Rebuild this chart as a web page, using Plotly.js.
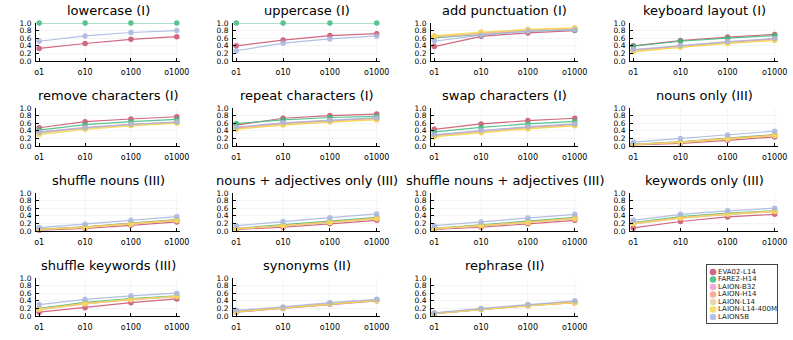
<!DOCTYPE html>
<html>
<head>
<meta charset="utf-8">
<script src="https://cdn.plot.ly/plotly-3.0.1.min.js"></script>
<style>
  body { margin: 0; background: #fff; }
  #plot { width: 793px; height: 340px; }
</style>
</head>
<body>
<div id="plot"></div>
<script>
// subplot titles and x tick labels
var panels = ["lowercase (I)", "uppercase (I)", "add punctuation (I)", "keyboard layout (I)",
  "remove characters (I)", "repeat characters (I)", "swap characters (I)", "nouns only (III)",
  "shuffle nouns (III)", "nouns + adjectives only (III)", "shuffle nouns + adjectives (III)", "keywords only (III)",
  "shuffle keywords (III)", "synonyms (II)", "rephrase (II)"];
var xLabels = ["o1", "o10", "o100", "o1000"];
var yTicks = [0, 0.2, 0.4, 0.6, 0.8, 1.0];

var models = ["EVA02-L14", "FARE2-H14", "LAION-B32", "LAION-H14", "LAION-L14", "LAION-L14-400M", "LAION5B"];
var colors = ["#c94f6a", "#3dba7c", "#ef9bd0", "#f5a07c", "#e9cfa3", "#f6d84a", "#a7b6df"];

// one row per panel, values at o1, o10, o100, o1000
var eva02 = [
  [0.33, 0.46, 0.57, 0.64], [0.40, 0.55, 0.67, 0.72], [0.38, 0.65, 0.74, 0.80], [0.40, 0.54, 0.63, 0.70],
  [0.48, 0.64, 0.71, 0.77], [0.55, 0.73, 0.80, 0.84], [0.44, 0.58, 0.67, 0.73], [0.03, 0.07, 0.15, 0.24],
  [0.02, 0.07, 0.15, 0.24], [0.04, 0.10, 0.19, 0.28], [0.04, 0.10, 0.19, 0.28], [0.08, 0.25, 0.37, 0.44],
  [0.10, 0.22, 0.35, 0.45], [0.10, 0.20, 0.31, 0.40], [0.06, 0.17, 0.27, 0.35]];
var fare2 = [
  [1.00, 1.00, 1.00, 1.00], [1.00, 1.00, 1.00, 1.00], [0.61, 0.70, 0.79, 0.82], [0.39, 0.52, 0.60, 0.67],
  [0.42, 0.56, 0.64, 0.70], [0.59, 0.69, 0.75, 0.78], [0.37, 0.49, 0.58, 0.65], [0.05, 0.11, 0.21, 0.30],
  [0.05, 0.11, 0.21, 0.30], [0.07, 0.16, 0.26, 0.36], [0.07, 0.16, 0.26, 0.36], [0.22, 0.38, 0.47, 0.53],
  [0.20, 0.36, 0.46, 0.53], [0.12, 0.22, 0.33, 0.42], [0.07, 0.18, 0.28, 0.37]];
var laionB32 = [
  null, null, [0.63, 0.72, 0.80, 0.85], [0.29, 0.40, 0.50, 0.58],
  [0.37, 0.49, 0.57, 0.63], [0.48, 0.60, 0.67, 0.73], [0.28, 0.40, 0.49, 0.57], [0.04, 0.10, 0.19, 0.28],
  [0.04, 0.10, 0.19, 0.28], [0.06, 0.13, 0.23, 0.33], [0.06, 0.13, 0.23, 0.33], [0.20, 0.35, 0.45, 0.52],
  [0.18, 0.33, 0.44, 0.52], [0.12, 0.22, 0.33, 0.42], [0.07, 0.18, 0.28, 0.37]];
var laionH14 = [
  null, null, [0.65, 0.74, 0.82, 0.86], [0.28, 0.39, 0.49, 0.57],
  [0.35, 0.47, 0.56, 0.62], [0.47, 0.58, 0.66, 0.72], [0.27, 0.38, 0.48, 0.56], [0.04, 0.10, 0.20, 0.29],
  [0.04, 0.10, 0.20, 0.29], [0.06, 0.14, 0.24, 0.34], [0.06, 0.14, 0.24, 0.34], [0.19, 0.34, 0.44, 0.51],
  [0.17, 0.32, 0.43, 0.51], [0.12, 0.22, 0.33, 0.42], [0.07, 0.18, 0.28, 0.36]];
var laionL14 = [
  null, null, [0.64, 0.73, 0.81, 0.85], [0.26, 0.37, 0.47, 0.55],
  [0.33, 0.46, 0.55, 0.61], [0.45, 0.56, 0.64, 0.70], [0.25, 0.37, 0.46, 0.54], [0.04, 0.09, 0.18, 0.27],
  [0.04, 0.09, 0.18, 0.27], [0.06, 0.13, 0.22, 0.32], [0.06, 0.13, 0.22, 0.32], [0.19, 0.34, 0.44, 0.51],
  [0.17, 0.32, 0.43, 0.51], [0.11, 0.21, 0.32, 0.41], [0.07, 0.17, 0.27, 0.36]];
var laion400m = [
  null, null, [0.66, 0.76, 0.83, 0.87], [0.24, 0.36, 0.46, 0.54],
  [0.30, 0.44, 0.53, 0.60], [0.44, 0.55, 0.63, 0.69], [0.24, 0.35, 0.45, 0.53], [0.04, 0.10, 0.19, 0.28],
  [0.04, 0.10, 0.19, 0.28], [0.06, 0.14, 0.23, 0.33], [0.06, 0.14, 0.23, 0.33], [0.20, 0.35, 0.45, 0.52],
  [0.18, 0.33, 0.44, 0.52], [0.11, 0.21, 0.32, 0.41], [0.07, 0.17, 0.27, 0.35]];
var laion5b = [
  [0.52, 0.66, 0.75, 0.80], [0.27, 0.47, 0.58, 0.66], [0.52, 0.68, 0.78, 0.82], [0.30, 0.41, 0.51, 0.59],
  [0.36, 0.48, 0.57, 0.63], [0.50, 0.61, 0.68, 0.74], [0.30, 0.41, 0.51, 0.58], [0.10, 0.20, 0.29, 0.39],
  [0.09, 0.18, 0.28, 0.38], [0.14, 0.25, 0.35, 0.45], [0.14, 0.24, 0.34, 0.44], [0.28, 0.44, 0.53, 0.60],
  [0.30, 0.44, 0.53, 0.60], [0.15, 0.24, 0.35, 0.44], [0.08, 0.20, 0.30, 0.40]];

var series = [eva02, fare2, laionB32, laionH14, laionL14, laion400m, laion5b];

var W = 793, H = 340;
var colPx = [[36, 180], [233, 380], [431, 578], [630, 778]];
var rowPx = [[23, 61], [108, 146], [193, 231], [278, 316]];

var font = "DejaVu Sans, Liberation Sans, sans-serif";
var data = [];
var layout = {
  width: W, height: H,
  margin: {l: 0, r: 0, t: 0, b: 0},
  paper_bgcolor: "#fff", plot_bgcolor: "#fff",
  showlegend: false,
  font: {family: font, color: "#000"},
  annotations: []
};

panels.forEach(function (title, p) {
  var c = p % 4, r = Math.floor(p / 4);
  var n = p === 0 ? "" : String(p + 1);
  var xd = [colPx[c][0] / W, colPx[c][1] / W];
  var yd = [1 - rowPx[r][1] / H, 1 - rowPx[r][0] / H];

  series.forEach(function (s, k) {
    if (!s[p]) return;
    data.push({
      x: xLabels, y: s[p],
      xaxis: "x" + n, yaxis: "y" + n,
      type: "scatter", mode: "lines+markers",
      name: models[k],
      line: {color: colors[k], width: 1.2},
      marker: {color: colors[k], size: 5.5},
      opacity: 0.85,
      cliponaxis: false
    });
  });

  layout["xaxis" + n] = {
    domain: xd, anchor: "y" + n,
    type: "category", range: [-0.07, 3.07],
    showline: true, linecolor: "#000", linewidth: 1,
    ticks: "inside", ticklen: 3, tickcolor: "#000",
    showgrid: true, gridcolor: "#ececec", gridwidth: 0.6,
    zeroline: false,
    tickfont: {size: 8, family: font},
    ticklabelstandoff: 3
  };
  layout["yaxis" + n] = {
    domain: yd, anchor: "x" + n,
    range: [0, 1],
    tickvals: yTicks, ticktext: yTicks.map(function (v) { return v.toFixed(1); }),
    showline: true, linecolor: "#000", linewidth: 1,
    ticks: "inside", ticklen: 3, tickcolor: "#000",
    showgrid: true, gridcolor: "#ececec", gridwidth: 0.6,
    zeroline: false,
    tickfont: {size: 7.5, family: font},
    ticklabelstandoff: 2
  };
  layout.annotations.push({
    text: title, xref: "paper", yref: "paper",
    x: (xd[0] + xd[1]) / 2, y: yd[1],
    xanchor: "center", yanchor: "bottom", yshift: 3,
    showarrow: false,
    font: {size: 13, family: font, color: "#000"}
  });
});

// legend box in the empty 16th cell
var legX = [707, 777], legY = [265, 323];
data.push({
  x: models.map(function () { return 0; }),
  y: models.map(function (m, i) { return i; }),
  text: models,
  xaxis: "x16", yaxis: "y16",
  type: "scatter", mode: "markers+text",
  textposition: "middle right",
  textfont: {size: 7, family: font, color: "#222"},
  marker: {color: colors, size: 6.5, opacity: 0.85},
  hoverinfo: "skip",
  cliponaxis: false
});
layout.xaxis16 = {
  domain: [legX[0] / W, legX[1] / W], anchor: "y16",
  range: [-6, 64], showgrid: false, zeroline: false, showticklabels: false, ticks: "",
  showline: true, mirror: true, linecolor: "#444", linewidth: 1
};
layout.yaxis16 = {
  domain: [1 - legY[1] / H, 1 - legY[0] / H], anchor: "x16",
  range: [6.8, -0.93], showgrid: false, zeroline: false, showticklabels: false, ticks: "",
  showline: true, mirror: true, linecolor: "#444", linewidth: 1
};

Plotly.newPlot("plot", data, layout, {displayModeBar: false, staticPlot: true});
</script>
</body>
</html>
